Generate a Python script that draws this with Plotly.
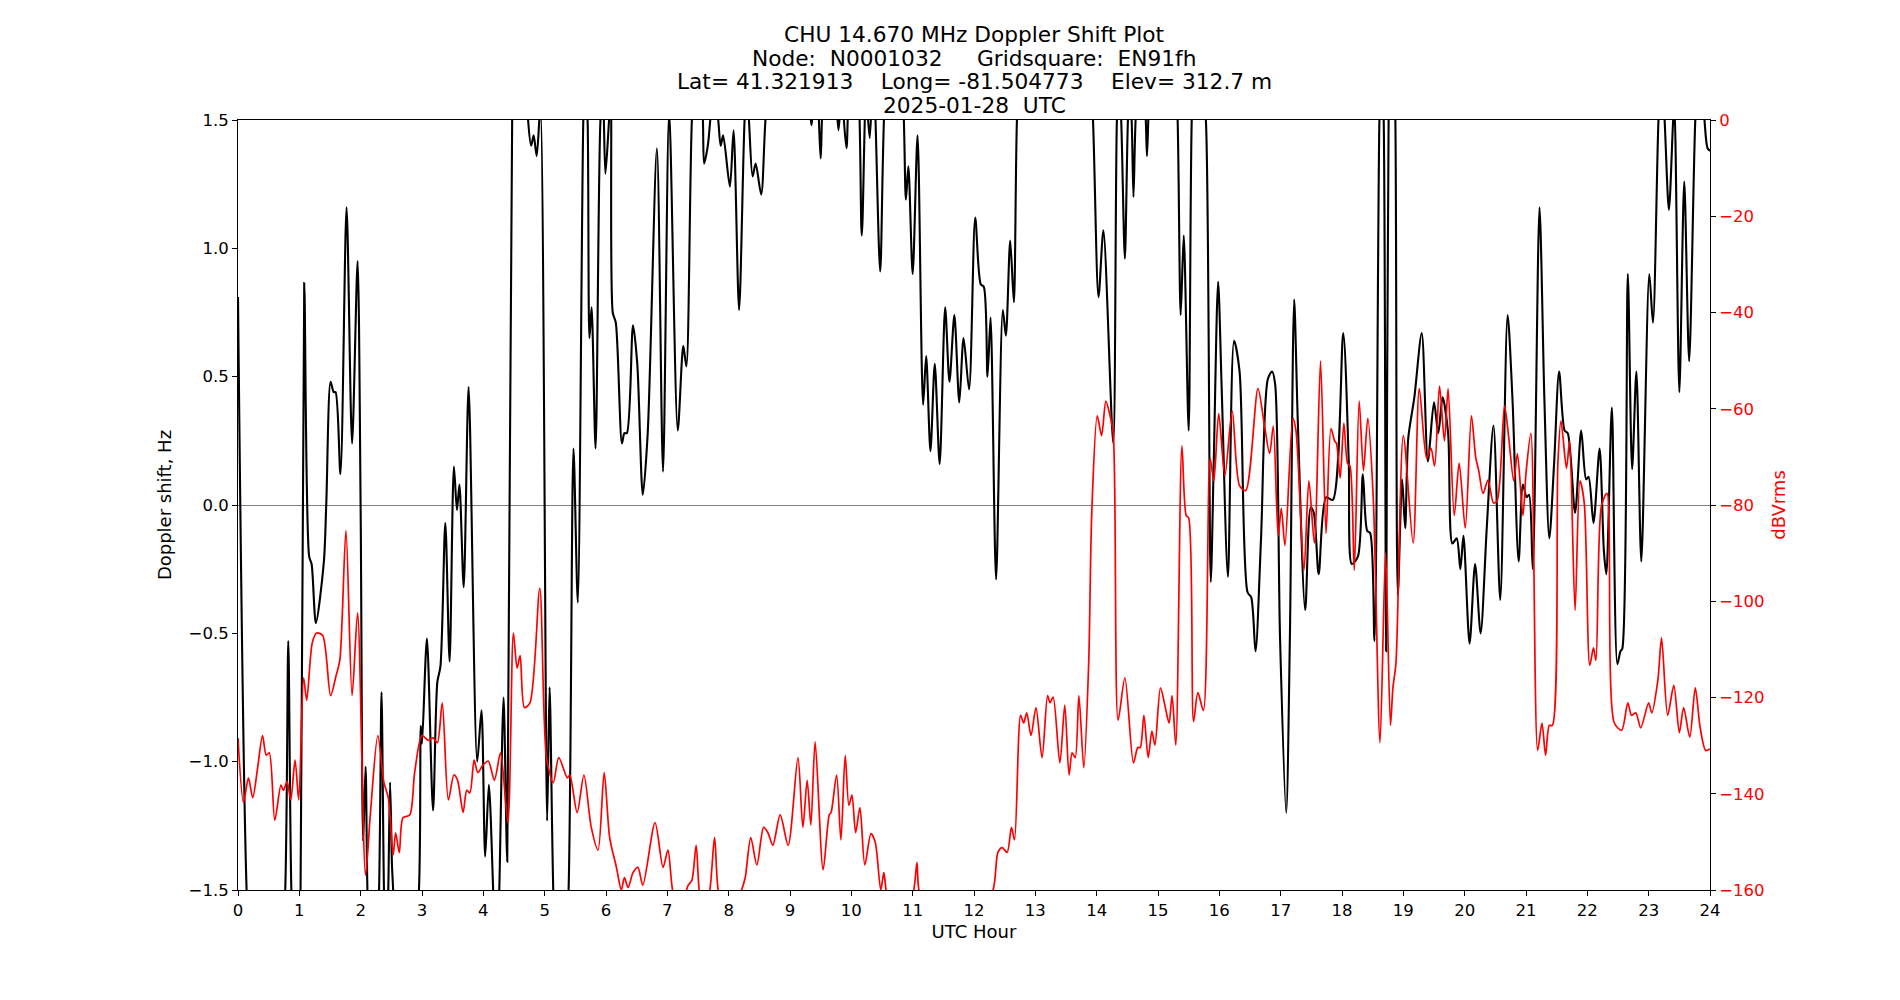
import plotly.graph_objects as go

title_lines = [
    "CHU 14.670 MHz Doppler Shift Plot",
    "Node:  N0001032     Gridsquare:  EN91fh",
    "Lat= 41.321913    Long= -81.504773    Elev= 312.7 m",
    "2025-01-28  UTC",
]

x_ticks = list(range(0, 25))
doppler_ticks = [-1.5, -1.0, -0.5, 0.0, 0.5, 1.0, 1.5]
power_ticks = [0, -20, -40, -60, -80, -100, -120, -140, -160]

# Doppler shift (Hz) vs UTC hour  (values beyond +/-1.5 run off the axes)
doppler_points = [
    (0.00, 0.81), (0.14, -1.5), (0.30, -2.3), (0.60, -2.3), (0.77, -1.5), (0.82, -0.53), (0.87, -1.5),
    (0.95, -2.0), (1.02, -1.5), (1.08, 0.865), (1.16, -0.20), (1.20, -0.23), (1.27, -0.46), (1.40, -0.22),
    (1.44, 0.01), (1.51, 0.48), (1.56, 0.44), (1.59, 0.44), (1.67, 0.12), (1.77, 1.16), (1.86, 0.24),
    (1.95, 0.95), (2.00, -0.03), (2.04, -1.31), (2.08, -1.02), (2.11, -1.5), (2.20, -2.2), (2.30, -1.5),
    (2.34, -0.73), (2.38, -1.5), (2.415, -1.8), (2.45, -1.5), (2.48, -1.08), (2.51, -1.40), (2.53, -1.5),
    (2.70, -2.3), (2.95, -1.5), (2.98, -0.86), (3.00, -0.93), (3.08, -0.52), (3.18, -1.19), (3.25, -0.69),
    (3.30, -0.63), (3.38, -0.07), (3.45, -0.61), (3.52, 0.15), (3.57, -0.02), (3.61, 0.08), (3.68, -0.32),
    (3.76, 0.46), (3.90, -1.0), (3.97, -0.80), (4.03, -1.37), (4.09, -1.09), (4.16, -1.5), (4.21, -1.9),
    (4.26, -1.5), (4.33, -0.75), (4.39, -1.39), (4.47, 1.5), (4.55, 2.1), (4.66, 2.1), (4.73, 1.5),
    (4.78, 1.40), (4.82, 1.44), (4.87, 1.36), (4.93, 1.55), (5.04, -1.23), (5.08, -0.71), (5.14, -1.5),
    (5.25, -2.3), (5.39, -1.5), (5.47, 0.22), (5.54, -0.38), (5.63, 1.5), (5.66, 1.7), (5.70, 1.5),
    (5.73, 0.65), (5.765, 0.77), (5.83, 0.22), (5.91, 1.5), (5.95, 1.6), (5.99, 1.29), (6.05, 1.5),
    (6.08, 1.6), (6.11, 0.75), (6.16, 0.71), (6.26, 0.24), (6.30, 0.28), (6.34, 0.28), (6.44, 0.70),
    (6.51, 0.55), (6.60, 0.04), (6.68, 0.28), (6.83, 1.39), (6.93, 0.13), (7.03, 1.53), (7.17, 0.29),
    (7.26, 0.62), (7.31, 0.54), (7.40, 1.5), (7.50, 1.9), (7.58, 1.5), (7.60, 1.33), (7.66, 1.40),
    (7.70, 1.5), (7.76, 1.65), (7.83, 1.5), (7.87, 1.40), (7.91, 1.44), (8.02, 1.24), (8.08, 1.46),
    (8.17, 0.76), (8.26, 1.5), (8.295, 1.6), (8.33, 1.5), (8.39, 1.28), (8.44, 1.33), (8.53, 1.21),
    (8.60, 1.5), (8.75, 1.9), (9.20, 1.9), (9.32, 1.55), (9.35, 1.48), (9.38, 1.55), (9.44, 1.6),
    (9.50, 1.35), (9.55, 1.6), (9.70, 1.7), (9.79, 1.46), (9.84, 1.6), (9.92, 1.39), (9.98, 1.65),
    (10.08, 1.7), (10.17, 1.05), (10.24, 1.6), (10.30, 1.43), (10.36, 1.7), (10.47, 0.91), (10.55, 1.6),
    (10.70, 1.9), (10.84, 1.6), (10.89, 1.19), (10.93, 1.32), (11.00, 0.90), (11.08, 1.44), (11.17, 0.39),
    (11.22, 0.58), (11.29, 0.21), (11.36, 0.55), (11.44, 0.16), (11.53, 0.77), (11.60, 0.48), (11.68, 0.74),
    (11.76, 0.40), (11.83, 0.65), (11.92, 0.45), (12.02, 1.12), (12.11, 0.86), (12.16, 0.85), (12.22, 0.50),
    (12.27, 0.73), (12.36, -0.29), (12.47, 0.76), (12.52, 0.66), (12.59, 1.03), (12.65, 0.79), (12.70, 1.5),
    (12.80, 2.0), (13.50, 2.2), (13.85, 1.9), (13.94, 1.5), (14.03, 0.81), (14.11, 1.07), (14.27, 0.24),
    (14.33, 1.5), (14.365, 1.65), (14.40, 1.5), (14.46, 0.96), (14.51, 1.5), (14.54, 1.6), (14.57, 1.5),
    (14.60, 1.20), (14.635, 1.5), (14.70, 1.7), (14.79, 1.55), (14.82, 1.36), (14.85, 1.55), (14.95, 1.9),
    (15.25, 1.9), (15.32, 1.5), (15.37, 0.74), (15.42, 1.05), (15.50, 0.29), (15.55, 1.5), (15.62, 1.9),
    (15.73, 1.6), (15.78, 1.5), (15.86, -0.30), (15.91, 0.18), (15.98, 0.87), (16.04, 0.44), (16.14, -0.28),
    (16.24, 0.64), (16.33, 0.52), (16.46, -0.34), (16.52, -0.36), (16.59, -0.57), (16.68, -0.13), (16.79, 0.49),
    (16.86, 0.52), (16.91, 0.47), (16.99, -0.52), (17.09, -1.20), (17.15, -0.52), (17.22, 0.80), (17.28, 0.32),
    (17.40, -0.41), (17.49, -0.01), (17.54, -0.03), (17.62, -0.27), (17.74, 0.03), (17.85, 0.02), (18.02, 0.67),
    (18.11, 0.17), (18.16, -0.23), (18.26, -0.20), (18.34, 0.12), (18.41, -0.10), (18.46, -0.11), (18.53, -0.53),
    (18.61, 1.5), (18.645, 1.75), (18.68, 1.5), (18.72, -0.57), (18.76, 1.5), (18.82, 2.0), (18.87, 1.5),
    (18.91, -0.35), (18.98, 0.10), (19.03, -0.09), (19.08, 0.26), (19.18, 0.42), (19.30, 0.67), (19.40, 0.17),
    (19.50, 0.40), (19.57, 0.28), (19.64, 0.42), (19.73, 0.28), (19.80, -0.15), (19.87, -0.13), (19.93, -0.25),
    (19.98, -0.12), (20.08, -0.54), (20.17, -0.23), (20.26, -0.50), (20.36, -0.09), (20.47, 0.31), (20.58, -0.37),
    (20.70, 0.74), (20.78, 0.41), (20.88, -0.22), (20.95, 0.08), (21.01, 0.03), (21.05, 0.04), (21.11, -0.25),
    (21.22, 1.16), (21.30, 0.41), (21.38, -0.13), (21.46, 0.17), (21.54, 0.52), (21.63, 0.29), (21.68, 0.28),
    (21.80, -0.03), (21.90, 0.29), (21.98, 0.10), (22.02, 0.11), (22.10, -0.07), (22.20, 0.22), (22.27, -0.18),
    (22.31, -0.27), (22.40, 0.38), (22.49, -0.62), (22.54, -0.57), (22.57, -0.56), (22.66, 0.90), (22.73, 0.14),
    (22.80, 0.52), (22.88, -0.22), (23.01, 0.90), (23.07, 0.71), (23.16, 1.5), (23.21, 1.7), (23.26, 1.5),
    (23.33, 1.15), (23.40, 1.5), (23.42, 1.55), (23.50, 0.44), (23.58, 1.26), (23.66, 0.56), (23.76, 1.5),
    (23.83, 1.8), (23.91, 1.5), (23.96, 1.39), (24.00, 1.38),
]

# Signal level (dBVrms) vs UTC hour (values below -160 run off the axes)
power_points = [
    (0.00, -128.4), (0.09, -141.8), (0.17, -136.7), (0.24, -140.8), (0.32, -134.6), (0.40, -127.9),
    (0.46, -132.0), (0.51, -131.5), (0.60, -145.5), (0.70, -138.2), (0.74, -139.3), (0.80, -137.5),
    (0.86, -141.3), (0.93, -133.0), (0.99, -141.3), (1.07, -115.9), (1.12, -120.6), (1.21, -108.7),
    (1.28, -106.6), (1.38, -107.1), (1.51, -119.6), (1.60, -115.4), (1.66, -112.3), (1.76, -85.3),
    (1.86, -119.6), (1.95, -102.4), (2.08, -156.9), (2.16, -143.9), (2.28, -127.9), (2.38, -137.7),
    (2.45, -140.8), (2.53, -152.7), (2.57, -148.1), (2.63, -152.2), (2.69, -145.0), (2.80, -144.4),
    (2.88, -135.6), (3.00, -127.9), (3.10, -128.9), (3.18, -128.4), (3.25, -129.4), (3.33, -121.1),
    (3.43, -141.3), (3.52, -136.1), (3.58, -137.2), (3.67, -143.9), (3.73, -139.3), (3.78, -139.8),
    (3.85, -133.0), (3.91, -135.6), (3.99, -134.1), (4.08, -133.2), (4.18, -137.2), (4.28, -131.5),
    (4.40, -146.0), (4.49, -106.6), (4.55, -113.9), (4.60, -111.3), (4.67, -122.1), (4.76, -121.1),
    (4.92, -97.3), (5.03, -132.5), (5.14, -137.7), (5.23, -132.5), (5.37, -136.7), (5.41, -136.1),
    (5.53, -143.9), (5.64, -136.1), (5.76, -147.0), (5.87, -151.7), (5.97, -135.6), (6.06, -149.1),
    (6.17, -155.3), (6.25, -160.0), (6.30, -157.4), (6.36, -159.5), (6.44, -156.4), (6.52, -155.3),
    (6.60, -159.0), (6.80, -146.0), (6.93, -155.3), (7.01, -151.7), (7.10, -161.0), (7.20, -163.0),
    (7.30, -160.5), (7.34, -159.0), (7.40, -158.0), (7.47, -150.7), (7.53, -161.0), (7.60, -163.0),
    (7.68, -161.0), (7.77, -149.1), (7.84, -161.0), (8.00, -166.0), (8.21, -160.0), (8.27, -157.4),
    (8.36, -149.1), (8.46, -154.8), (8.57, -147.0), (8.64, -148.1), (8.72, -150.7), (8.84, -144.4),
    (8.97, -150.7), (9.13, -132.5), (9.21, -147.0), (9.28, -137.2), (9.34, -146.5), (9.41, -129.2),
    (9.54, -155.8), (9.64, -144.4), (9.67, -143.9), (9.76, -136.1), (9.83, -149.6), (9.90, -132.0),
    (9.96, -142.4), (10.01, -140.3), (10.07, -148.1), (10.14, -142.9), (10.22, -154.8), (10.32, -148.3),
    (10.39, -150.1), (10.48, -160.0), (10.53, -156.4), (10.58, -161.0), (10.75, -166.0), (11.00, -161.0),
    (11.07, -154.3), (11.12, -161.0), (11.50, -167.0), (12.00, -167.0), (12.31, -160.0), (12.39, -152.2),
    (12.46, -151.2), (12.54, -152.2), (12.61, -147.0), (12.66, -149.6), (12.76, -123.7), (12.81, -125.3),
    (12.86, -123.2), (12.93, -127.9), (13.01, -122.1), (13.11, -132.5), (13.20, -119.6), (13.24, -121.1),
    (13.29, -119.9), (13.40, -133.6), (13.48, -121.6), (13.55, -136.1), (13.60, -131.5), (13.65, -132.5),
    (13.71, -119.6), (13.79, -134.6), (13.87, -112.8), (13.92, -81.7), (14.01, -61.5), (14.08, -65.6),
    (14.15, -58.4), (14.21, -61.0), (14.27, -65.1), (14.35, -124.7), (14.46, -115.9), (14.60, -133.6),
    (14.67, -130.4), (14.71, -130.4), (14.77, -123.7), (14.84, -132.5), (14.90, -127.0), (14.95, -129.9),
    (15.04, -118.0), (15.12, -122.1), (15.18, -125.3), (15.23, -119.6), (15.29, -129.9), (15.39, -67.7),
    (15.46, -82.2), (15.50, -82.7), (15.58, -125.0), (15.65, -119.0), (15.74, -122.7), (15.85, -70.3),
    (15.91, -75.0), (15.99, -61.0), (16.09, -73.9), (16.21, -60.5), (16.33, -76.0), (16.43, -77.0),
    (16.63, -55.8), (16.73, -63.0), (16.82, -69.3), (16.88, -63.6), (16.96, -86.4), (17.01, -80.7),
    (17.07, -88.4), (17.20, -62.0), (17.25, -64.6), (17.38, -93.6), (17.46, -75.0), (17.55, -87.9),
    (17.65, -50.1), (17.74, -85.9), (17.82, -64.1), (17.88, -66.7), (17.91, -67.2), (17.97, -74.4),
    (18.03, -63.0), (18.09, -71.3), (18.13, -71.9), (18.20, -93.6), (18.28, -58.4), (18.35, -72.9),
    (18.42, -62.0), (18.51, -78.6), (18.62, -129.4), (18.71, -90.0), (18.79, -125.8), (18.83, -118.0),
    (18.88, -112.8), (19.00, -65.6), (19.16, -87.9), (19.26, -55.8), (19.38, -70.3), (19.45, -68.2),
    (19.51, -71.9), (19.59, -55.3), (19.67, -66.7), (19.73, -55.8), (19.83, -82.2), (19.91, -71.3),
    (20.01, -84.8), (20.11, -61.5), (20.18, -70.1), (20.23, -72.9), (20.30, -77.6), (20.38, -74.8),
    (20.47, -79.6), (20.53, -79.1), (20.65, -59.4), (20.72, -66.2), (20.80, -75.0), (20.86, -69.3),
    (20.95, -82.2), (21.00, -73.4), (21.08, -65.1), (21.19, -131.0), (21.26, -125.3), (21.32, -132.0),
    (21.38, -125.8), (21.43, -125.8), (21.52, -71.3), (21.57, -62.5), (21.66, -72.4), (21.71, -66.7),
    (21.80, -101.9), (21.88, -75.0), (21.95, -79.6), (22.04, -113.3), (22.10, -109.7), (22.14, -112.3),
    (22.23, -80.2), (22.32, -77.6), (22.44, -125.3), (22.56, -126.8), (22.66, -121.1), (22.72, -123.7),
    (22.79, -123.2), (22.87, -126.3), (23.00, -121.1), (23.05, -123.2), (23.15, -116.4), (23.21, -107.6),
    (23.31, -123.7), (23.41, -117.5), (23.50, -127.3), (23.57, -122.1), (23.67, -128.2), (23.76, -118.0),
    (23.84, -126.3), (23.93, -131.0), (24.00, -130.7),
]

doppler_hours = [p[0] for p in doppler_points]
doppler_hz = [p[1] for p in doppler_points]
power_hours = [p[0] for p in power_points]
power_dbv = [p[1] for p in power_points]

FONT = "DejaVu Sans"
TICK_SIZE = 16.5
LABEL_SIZE = 18
TITLE_SIZE = 21.7

fig = go.Figure()
fig.add_trace(go.Scatter(
    x=doppler_hours, y=doppler_hz, mode="lines",
    line=dict(color="black", width=2.1, shape="spline", smoothing=0.8),
    yaxis="y", showlegend=False, hoverinfo="skip",
))
fig.add_trace(go.Scatter(
    x=power_hours, y=power_dbv, mode="lines",
    line=dict(color="red", width=1.7, shape="spline", smoothing=0.8),
    yaxis="y2", showlegend=False, hoverinfo="skip",
))

title_y_px = [35, 58, 81.5, 105]
plot_top, plot_bottom = 120, 890
annotations = []
for line, ypx in zip(title_lines, title_y_px):
    annotations.append(dict(
        text=line, xref="paper", yref="paper", x=0.5,
        y=(plot_bottom - ypx) / (plot_bottom - plot_top),
        xanchor="center", yanchor="middle", showarrow=False,
        font=dict(family=FONT, size=TITLE_SIZE, color="black"),
    ))

fig.update_layout(
    width=1900, height=1000, autosize=False,
    margin=dict(l=238, r=190, t=120, b=110, pad=0),
    paper_bgcolor="white", plot_bgcolor="white",
    font=dict(family=FONT, size=TICK_SIZE, color="black"),
    annotations=annotations,
    xaxis=dict(
        range=[0, 24], tickvals=x_ticks, ticktext=[str(t) for t in x_ticks],
        ticks="outside", ticklen=5, tickwidth=1, tickcolor="black",
        showline=True, linecolor="black", linewidth=1, mirror=True,
        showgrid=False, zeroline=False,
        title=dict(text="UTC Hour", font=dict(family=FONT, size=LABEL_SIZE), standoff=6),
        tickfont=dict(family=FONT, size=TICK_SIZE, color="black"),
    ),
    yaxis=dict(
        range=[-1.5, 1.5], tickvals=doppler_ticks, tickformat=".1f",
        ticks="outside", ticklen=5, tickwidth=1, tickcolor="black",
        showline=True, linecolor="black", linewidth=1, mirror=True,
        showgrid=False, zeroline=True, zerolinecolor="#808080", zerolinewidth=1,
        title=dict(text="Doppler shift, Hz", font=dict(family=FONT, size=LABEL_SIZE), standoff=12),
        tickfont=dict(family=FONT, size=TICK_SIZE, color="black"),
    ),
    yaxis2=dict(
        range=[-160, 0], tickvals=power_ticks, overlaying="y", side="right", anchor="x",
        ticks="outside", ticklen=5, tickwidth=1, tickcolor="black",
        showline=True, linecolor="black", linewidth=1,
        showgrid=False, zeroline=False,
        title=dict(text="dBVrms", font=dict(family=FONT, size=LABEL_SIZE, color="red"), standoff=8),
        tickfont=dict(family=FONT, size=TICK_SIZE, color="red"),
    ),
)

fig.write_html("out.html")
